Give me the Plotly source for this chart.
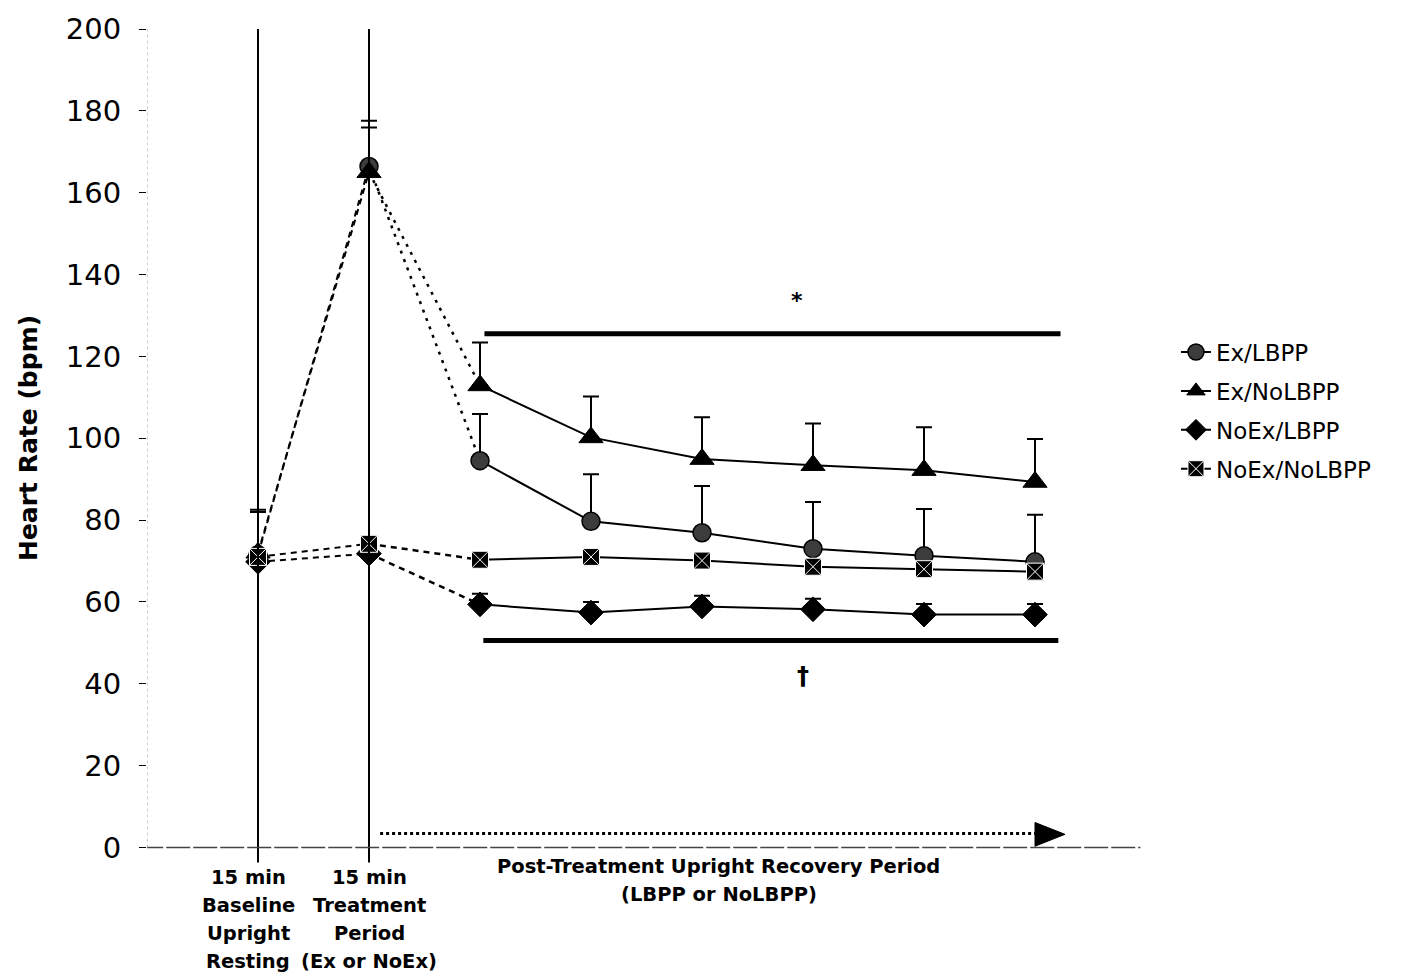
import plotly.graph_objects as go

# ---------------- data ----------------
x_pos = [0, 1, 2, 3, 4, 5, 6, 7]
series_names = ["Ex/LBPP", "Ex/NoLBPP", "NoEx/LBPP", "NoEx/NoLBPP"]
ex_lbpp = [71.5, 166.4, 94.5, 79.7, 76.9, 73.0, 71.3, 69.8]
ex_lbpp_sd = [11.0, 11.2, 11.4, 11.5, 11.4, 11.4, 11.4, 11.5]
ex_nolbpp = [72.0, 165.0, 112.9, 100.2, 94.9, 93.4, 92.2, 89.3]
ex_nolbpp_sd = [10.0, 10.9, 10.5, 10.0, 10.2, 10.2, 10.5, 10.5]
noex_lbpp = [69.8, 71.8, 59.4, 57.4, 58.9, 58.2, 56.9, 56.9]
noex_lbpp_sd = [2.0, 2.0, 2.6, 2.6, 2.6, 2.6, 2.6, 2.6]
noex_nolbpp = [71.0, 74.2, 70.3, 71.0, 70.1, 68.6, 68.0, 67.4]
noex_nolbpp_sd = [0, 0, 0, 0, 0, 0, 0, 0]

y_ticks = [0, 20, 40, 60, 80, 100, 120, 140, 160, 180, 200]
sig_bar_upper = 125.5
sig_bar_lower = 50.6

baseline_label = ["15 min", "Baseline", "Upright", "Resting"]
treatment_label = ["15 min", "Treatment", "Period", "(Ex or NoEx)"]
recovery_label = ["Post-Treatment Upright Recovery Period", "(LBPP or NoLBPP)"]

FONT = "DejaVu Sans"
fig = go.Figure()

series = [
    (series_names[0], ex_lbpp, ex_lbpp_sd, dict(symbol="circle", size=18, color="#3c3c3c",
                                                 line=dict(color="black", width=1.5)), "dot"),
    (series_names[1], ex_nolbpp, ex_nolbpp_sd, dict(symbol="triangle-up", size=21, color="black",
                                                    line=dict(color="black", width=1)), "dot"),
    (series_names[2], noex_lbpp, noex_lbpp_sd, dict(symbol="diamond", size=19, color="black",
                                                    line=dict(color="black", width=1)), "dash"),
    (series_names[3], noex_nolbpp, noex_nolbpp_sd, dict(symbol="square-x", size=17, color="black",
                                                        line=dict(color="white", width=1)), "dash"),
]

# connector lines
for name, vals, sd, mk, post_dash in series:
    fig.add_trace(go.Scatter(x=x_pos[0:2], y=vals[0:2], mode="lines",
                             line=dict(color="black", width=2, dash="6px,5px"),
                             showlegend=False, hoverinfo="skip"))
    fig.add_trace(go.Scatter(x=x_pos[1:3], y=vals[1:3], mode="lines",
                             line=dict(color="black", width=2.5,
                                       dash="3px,6px" if post_dash == "dot" else "6px,5px"),
                             showlegend=False, hoverinfo="skip"))

# markers & error bars
for i, (name, vals, sd, mk, post_dash) in enumerate(series):
    has_err = any(s > 0 for s in sd)
    err_pre = dict(type="data", symmetric=False, array=sd[0:2], arrayminus=[0, 0],
                   color="black", thickness=2, width=8, visible=has_err)
    err_post = dict(type="data", symmetric=False, array=sd[2:], arrayminus=[0] * 6,
                    color="black", thickness=2, width=8, visible=has_err)
    fig.add_trace(go.Scatter(x=x_pos[0:2], y=vals[0:2], mode="markers", marker=mk,
                             error_y=err_pre, showlegend=False))
    fig.add_trace(go.Scatter(x=x_pos[2:], y=vals[2:], mode="lines+markers", name=name,
                             marker=mk, line=dict(color="black", width=2),
                             error_y=err_post, legendgroup=name))

shapes = []
# vertical period lines
for xv in x_pos[0:2]:
    shapes.append(dict(type="line", xref="x", yref="y", x0=xv, x1=xv, y0=-3.7, y1=200,
                       line=dict(color="black", width=2)))
# x axis line (y=0)
shapes.append(dict(type="line", xref="x", yref="y", x0=-1.07, x1=7.95, y0=0, y1=0,
                   line=dict(color="#444", width=1.5, dash="24px,3px")))
# y axis line
shapes.append(dict(type="line", xref="x", yref="y", x0=-1, x1=-1, y0=0, y1=200,
                   line=dict(color="#999", width=1, dash="dot")))
# significance bars
shapes.append(dict(type="line", xref="x", yref="y", x0=2.04, x1=7.23, y0=sig_bar_upper,
                   y1=sig_bar_upper, line=dict(color="black", width=5)))
shapes.append(dict(type="line", xref="x", yref="y", x0=2.03, x1=7.21, y0=sig_bar_lower,
                   y1=sig_bar_lower, line=dict(color="black", width=5)))
# dotted arrow
shapes.append(dict(type="line", xref="x", yref="y", x0=1.1, x1=7.03, y0=3.4, y1=3.4,
                   line=dict(color="black", width=3, dash="dot")))
shapes.append(dict(type="path", xref="x", yref="y",
                   path="M 7.0,6.1 L 7.27,3.2 L 7.0,0.3 Z",
                   fillcolor="black", line=dict(color="black", width=1)))

PLOT_BOTTOM = 863
PLOT_H = 838


def paper_y(px):
    return (PLOT_BOTTOM - px) / PLOT_H


annotations = []
for k, line in enumerate(baseline_label):
    annotations.append(dict(text=line, x=-0.09, y=paper_y(878 + 28 * k), xref="x", yref="paper",
                            yanchor="middle", xanchor="center", showarrow=False,
                            font=dict(family=FONT, size=19.5, color="black", weight="bold")))
for k, line in enumerate(treatment_label):
    annotations.append(dict(text=line, x=1.0, y=paper_y(878 + 28 * k), xref="x", yref="paper",
                            yanchor="middle", xanchor="center", showarrow=False,
                            font=dict(family=FONT, size=19.5, color="black", weight="bold")))
for k, line in enumerate(recovery_label):
    annotations.append(dict(text=line, x=4.15, y=paper_y(867 + 28 * k), xref="x", yref="paper",
                            yanchor="middle", xanchor="center", showarrow=False,
                            font=dict(family=FONT, size=19.5, color="black", weight="bold")))
annotations += [
    dict(text="*", x=4.86, y=133.6, xref="x", yref="y", showarrow=False,
         font=dict(family=FONT, size=22, color="black", weight="bold")),
    dict(text="†", x=4.91, y=42, xref="x", yref="y", showarrow=False,
         font=dict(family=FONT, size=24, color="black", weight="bold")),
    dict(text="Heart Rate (bpm)", x=(28 - 147) / 999, xref="paper", y=paper_y(436),
         yref="paper", showarrow=False, xanchor="center", yanchor="middle",
         textangle=-90, font=dict(family=FONT, size=25, color="black", weight="bold")),
]

fig.update_layout(
    width=1409, height=977,
    margin=dict(l=147, r=263, t=25, b=114),
    paper_bgcolor="white", plot_bgcolor="white",
    shapes=shapes, annotations=annotations,
    showlegend=True,
    legend=dict(x=1.03, y=paper_y(328), xanchor="left", yanchor="top",
                font=dict(family=FONT, size=23, color="black"),
                tracegroupgap=6, traceorder="grouped", bgcolor="rgba(0,0,0,0)"),
    xaxis=dict(range=[-1, 8], visible=False),
    yaxis=dict(range=[-3.8, 200], tickvals=y_ticks, ticks="outside", ticklen=7,
               tickcolor="black", tickwidth=1, showgrid=False, zeroline=False,
               showline=False, ticklabelstandoff=12,
               tickfont=dict(family=FONT, size=29, color="black")),
)

fig.write_html("out.html")
